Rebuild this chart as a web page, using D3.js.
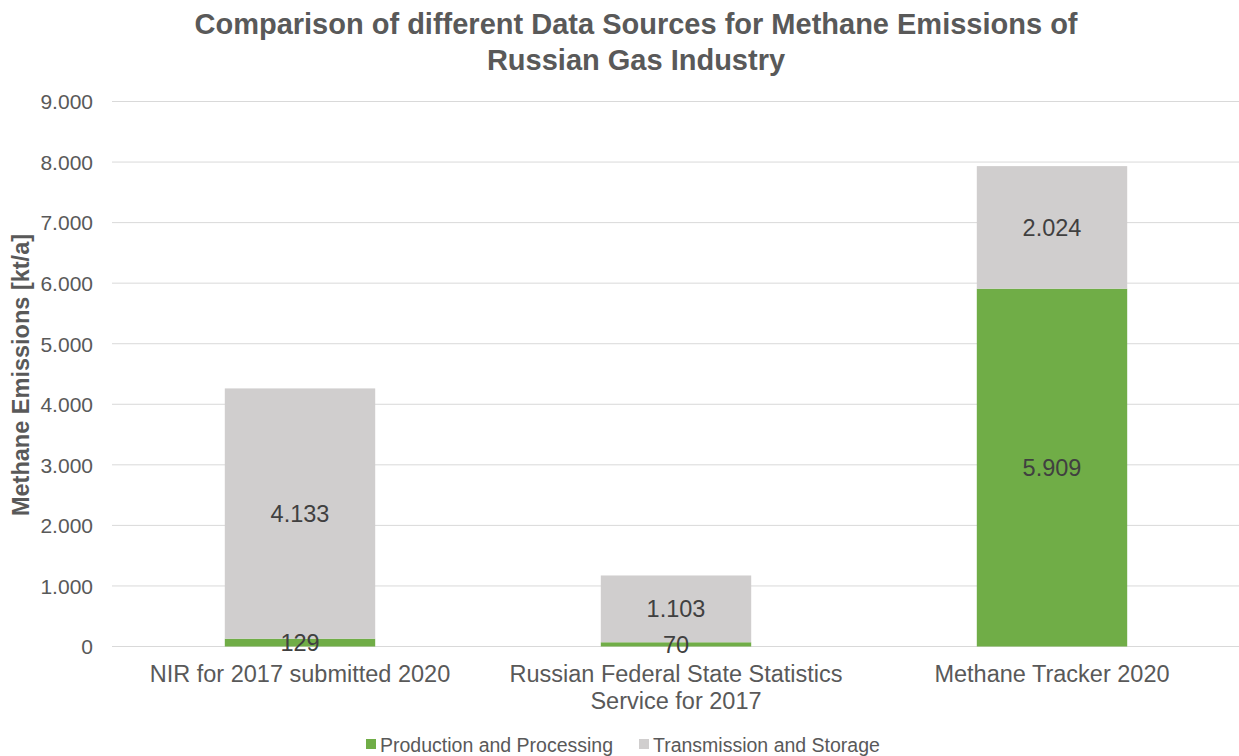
<!DOCTYPE html>
<html><head><meta charset="utf-8">
<script src="https://cdn.jsdelivr.net/npm/d3@7"></script>
<style>body{margin:0;background:#fff}svg{display:block;font-family:"Liberation Sans",Arial,sans-serif}</style>
</head><body><svg id="c" width="1239" height="756"></svg>
<script>
const categories = [["NIR for 2017 submitted 2020"], ["Russian Federal State Statistics", "Service for 2017"], ["Methane Tracker 2020"]];
const seriesNames = ["Production and Processing", "Transmission and Storage"];
const production = [129, 70, 5909];
const transmission = [4133, 1103, 2024];
const yTicks = [0, 1000, 2000, 3000, 4000, 5000, 6000, 7000, 8000, 9000];
const colors = ["#70ad47", "#d0cece"];

(function () {
const svg = d3.select("#c");
const pLeft = 112, pRight = 1240, pTop = 101.5, pBottom = 646.5;
const x = d3.scaleBand().domain(d3.range(categories.length)).range([pLeft, pRight]).paddingInner(0.6).paddingOuter(0.3);
const y = d3.scaleLinear().domain([0, 9000]).range([pBottom, pTop]);
const fmt = v => d3.format(",")(v).replace(/,/g, ".");

// gridlines
svg.append("g").selectAll("line").data(yTicks).join("line")
  .attr("x1", pLeft).attr("x2", pRight).attr("y1", d => y(d)).attr("y2", d => y(d))
  .attr("stroke", "#d9d9d9").attr("stroke-width", 1);

// y axis labels
const yAxis = d3.axisLeft(y).tickValues(yTicks).tickSize(0).tickPadding(0).tickFormat(fmt);
const ga = svg.append("g").attr("transform", `translate(${pLeft - 19},0)`).call(yAxis);
ga.select(".domain").remove();
ga.selectAll("text").attr("font-size", 21).attr("fill", "#595959").attr("font-family", "Liberation Sans, Arial, sans-serif").attr("dy", "0.35em");

// stacked bars
const data = categories.map((c, i) => ({i, p: production[i], t: transmission[i]}));
const stack = d3.stack().keys(["p", "t"])(data);
stack.forEach((s, si) => {
  svg.append("g").selectAll("rect").data(s).join("rect")
    .attr("x", d => x(d.data.i)).attr("width", x.bandwidth())
    .attr("y", d => y(d[1])).attr("height", d => y(d[0]) - y(d[1]))
    .attr("fill", colors[si]);
});
stack.forEach((s, si) => {
  svg.append("g").selectAll("text").data(s).join("text")
    .attr("x", d => x(d.data.i) + x.bandwidth() / 2)
    .attr("y", d => (y(d[0]) + y(d[1])) / 2)
    .attr("dy", "0.35em").attr("text-anchor", "middle")
    .attr("font-size", 23.5).attr("fill", "#404040")
    .text(d => fmt(d[1] - d[0]));
});

// category labels
categories.forEach((lines, i) => {
  const t = svg.append("text").attr("text-anchor", "middle").attr("font-size", 23.5).attr("fill", "#595959");
  lines.forEach((l, j) => t.append("tspan").attr("x", x(i) + x.bandwidth() / 2).attr("y", 682 + j * 27).text(l));
});

// title
const title = svg.append("text").attr("text-anchor", "middle").attr("font-size", 29).attr("font-weight", "bold").attr("fill", "#595959");
title.append("tspan").attr("x", 636).attr("y", 34).text("Comparison of different Data Sources for Methane Emissions of");
title.append("tspan").attr("x", 636).attr("y", 70).text("Russian Gas Industry");

// y-axis title
svg.append("text").attr("transform", "translate(29,375) rotate(-90)").attr("text-anchor", "middle")
  .attr("font-size", 23.5).attr("font-weight", "bold").attr("fill", "#595959").text("Methane Emissions [kt/a]");

// legend
const legX = [366, 639];
seriesNames.forEach((n, i) => {
  svg.append("rect").attr("x", legX[i]).attr("y", 739).attr("width", 10).attr("height", 10).attr("fill", colors[i]);
  svg.append("text").attr("x", legX[i] + 14).attr("y", 752).attr("font-size", 19.5).attr("fill", "#595959").text(n);
});
})();
</script></body></html>
